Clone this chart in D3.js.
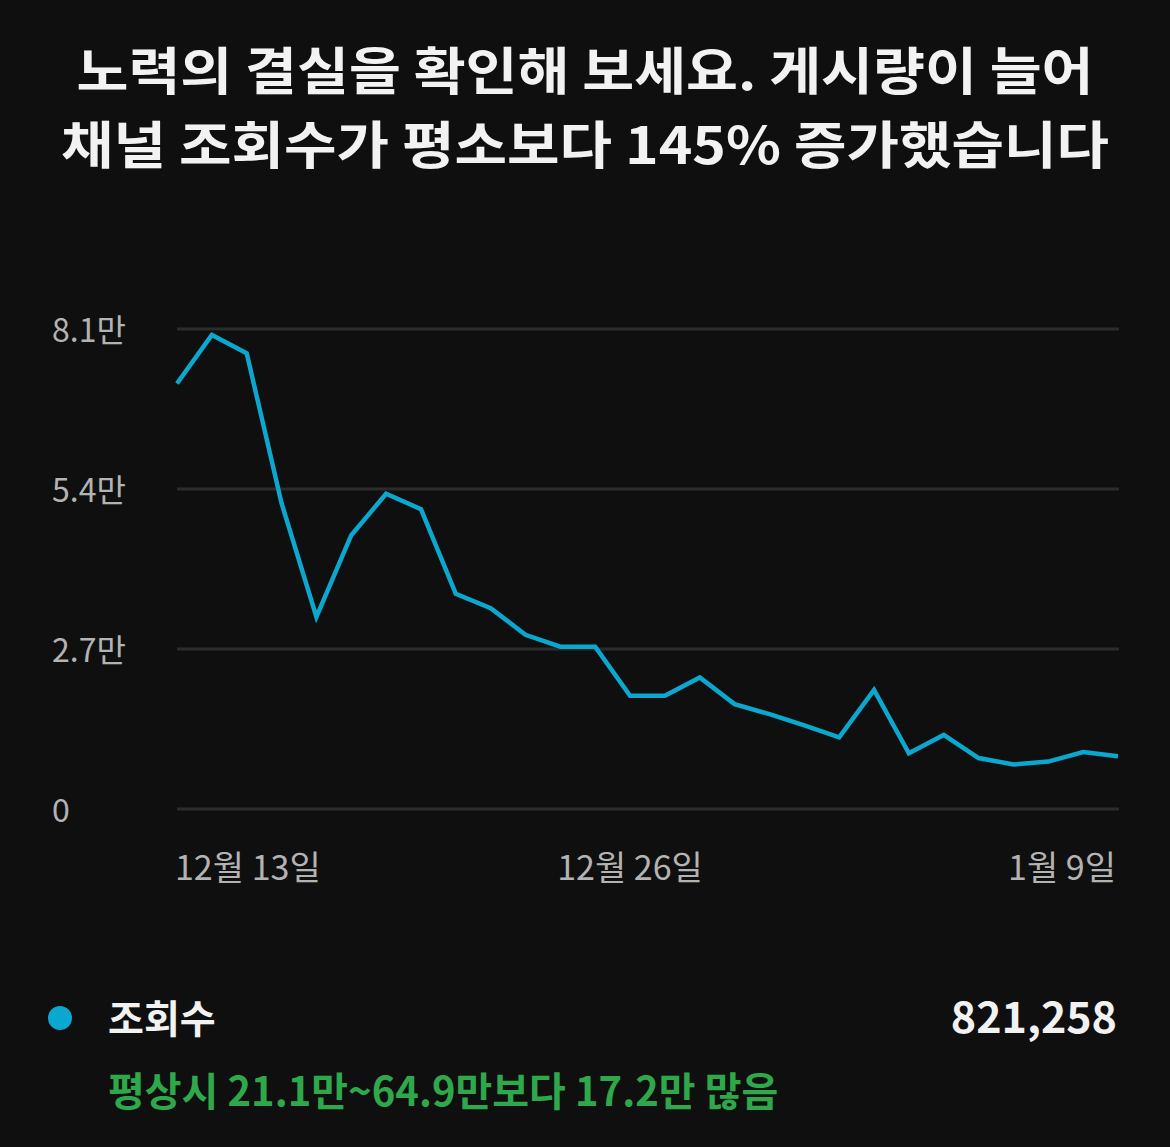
<!DOCTYPE html>
<html><head><meta charset="utf-8">
<script src="https://cdn.jsdelivr.net/npm/d3@7/dist/d3.min.js"></script>
<style>
html,body{margin:0;padding:0;background:#0f0f0f;}
svg{display:block;}
</style></head>
<body>
<svg id="c" width="1170" height="1147"></svg>
<script>
const titleLines = ["노력의 결실을 확인해 보세요. 게시량이 늘어", "채널 조회수가 평소보다 145% 증가했습니다"];
const dates = ["12월 13일","12월 14일","12월 15일","12월 16일","12월 17일","12월 18일","12월 19일","12월 20일","12월 21일","12월 22일","12월 23일","12월 24일","12월 25일","12월 26일","12월 27일","12월 28일","12월 29일","12월 30일","12월 31일","1월 1일","1월 2일","1월 3일","1월 4일","1월 5일","1월 6일","1월 7일","1월 8일","1월 9일"];
const views = [71800,80000,76900,51600,32400,46200,53200,50600,36300,33900,29400,27400,27400,19100,19100,22200,17700,16000,14100,12100,20100,9400,12500,8600,7500,8000,9600,8900];
const yTicks = [0,27000,54000,81000];
const yTickLabels = ["0","2.7만","5.4만","8.1만"];
const xTickLabels = ["12월 13일","12월 26일","1월 9일"];
const seriesName = "조회수";
const totalLabel = "821,258";
const noteLabel = "평상시 21.1만~64.9만보다 17.2만 많음";

const svg = d3.select("#c");
const FONT = "'Noto Sans CJK KR','Noto Sans',sans-serif";
svg.append("rect").attr("width",1170).attr("height",1147).attr("fill","#0f0f0f");

// title
const titleWidths = [1017, 1048];
svg.append("g").selectAll("text").data(titleLines).join("text")
  .attr("x",585).attr("y",(d,i)=>90+i*74)
  .attr("text-anchor","middle").attr("fill","#f2f2f2")
  .attr("font-family",FONT).attr("font-weight",700).attr("font-size",51)
  .attr("textLength",(d,i)=>titleWidths[i]).attr("lengthAdjust","spacingAndGlyphs")
  .text(d=>d);

const x = d3.scalePoint().domain(dates).range([177,1118]);
const y = d3.scaleLinear().domain([0,81000]).range([809,329]);

// grid
const g = svg.append("g");
g.selectAll("line.grid").data(yTicks).join("line")
  .attr("x1",177).attr("x2",1119)
  .attr("y1",d=>y(d)).attr("y2",d=>y(d))
  .attr("stroke","#2c2c2c").attr("stroke-width",3);

// y labels
g.selectAll("text.yl").data(yTicks).join("text")
  .attr("x",52).attr("y",d=>y(d)+2).attr("dy","0.35em")
  .attr("fill","#b3b3b3").attr("font-family",FONT).attr("font-size",32)
  .text((d,i)=>yTickLabels[i]);

// x labels
g.selectAll("text.xl").data(xTickLabels).join("text")
  .attr("x",d=>x(d)).attr("y",880)
  .attr("text-anchor",(d,i)=>i===0?"start":(i===xTickLabels.length-1?"end":"middle"))
  .attr("dx",(d,i)=>i===0?-2:(i===xTickLabels.length-1?-2:0))
  .attr("fill","#b3b3b3").attr("font-family",FONT).attr("font-size",34)
  .text(d=>d);

// line
const line = d3.line().x((d,i)=>x(dates[i])).y(d=>y(d));
svg.append("path").datum(views).attr("d",line)
  .attr("fill","none").attr("stroke","#0aa8cf").attr("stroke-width",4.5)
  .attr("stroke-linejoin","miter").attr("stroke-linecap","butt");

// legend
svg.append("circle").attr("cx",60).attr("cy",1018).attr("r",12).attr("fill","#0aa8cf");
svg.append("text").attr("x",108).attr("y",1033)
  .attr("fill","#f2f2f2").attr("font-family",FONT).attr("font-weight",700).attr("font-size",39)
  .text(seriesName);
svg.append("text").attr("x",1117).attr("y",1033).attr("text-anchor","end")
  .attr("fill","#f2f2f2").attr("font-family",FONT).attr("font-weight",700).attr("font-size",43)
  .text(totalLabel);
svg.append("text").attr("x",108).attr("y",1106)
  .attr("fill","#2ea84a").attr("font-family",FONT).attr("font-weight",700).attr("font-size",40)
  .text(noteLabel);
</script>
</body></html>
